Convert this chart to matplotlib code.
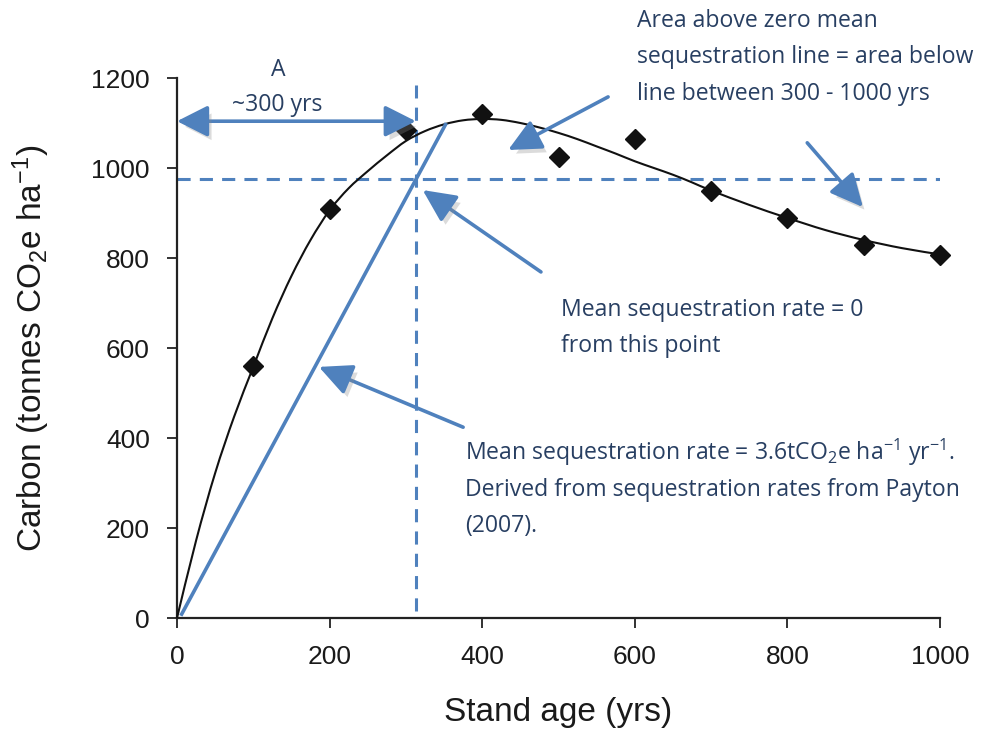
import matplotlib
matplotlib.use("Agg")
import matplotlib.pyplot as plt
import matplotlib.patheffects as pe
from matplotlib.path import Path
from matplotlib.patches import PathPatch

# ---- data ----
stand_age = [100, 200, 300, 400, 500, 600, 700, 800, 900, 1000]
carbon = [560, 909, 1084, 1119, 1024, 1064, 948, 889, 829, 807]

# fitted (trend) curve
curve_age = [0, 25, 50, 75, 100, 125, 150, 175, 200, 225, 250, 275, 300, 325, 350, 375, 400,
             425, 450, 475, 500, 525, 550, 575, 600, 625, 650, 675, 700, 750, 800, 850, 900,
             950, 1000]
curve_c = [0, 172, 322, 448, 558, 666, 760, 840, 906, 955, 993, 1028, 1060, 1082, 1097, 1106,
           1109, 1107, 1100, 1090, 1078, 1064, 1048, 1032, 1015, 1000, 985, 968, 950, 918, 889,
           862, 840, 822, 808]

mean_rate_x = [5, 353]
mean_rate_y = [5, 1100]
zero_line_age = 313
zero_line_carbon = 976
span_y = 1104

xticks = [0, 200, 400, 600, 800, 1000]
yticks = [0, 200, 400, 600, 800, 1000, 1200]

BLUE = "#4f81bd"
NAVY = "#283f62"
AX = "#222222"

plt.rcParams["mathtext.default"] = "regular"

W, H = 981, 729
fig = plt.figure(figsize=(W / 100, H / 100), dpi=100)
ax = fig.add_axes([177 / W, 1 - 618 / H, (940 - 177) / W, (618 - 78) / H])

ax.set_xlim(0, 1000)
ax.set_ylim(0, 1200)
for s in ["top", "right"]:
    ax.spines[s].set_visible(False)
for s in ["left", "bottom"]:
    ax.spines[s].set_linewidth(1.6)
    ax.spines[s].set_color(AX)
ax.set_xticks(xticks)
ax.set_yticks(yticks)
ax.tick_params(direction="out", length=7.5, width=1.3, color=AX,
               labelsize=19, labelcolor="#1a1a1a", pad=12)
for lab in ax.get_xticklabels() + ax.get_yticklabels():
    lab.set_fontfamily("Liberation Sans")

ax.set_xlabel("Stand age (yrs)", fontsize=24, family="Liberation Sans", color="#1a1a1a", labelpad=20)
ax.set_ylabel("Carbon (tonnes CO$_2$e ha$^{-1}$)", fontsize=24, family="Liberation Sans",
              color="#1a1a1a", labelpad=28)


def smooth_path(xs, ys):
    """Catmull-Rom through the read points, drawn as cubic Bezier segments."""
    pts = list(zip(xs, ys))
    verts = [pts[0]]
    codes = [Path.MOVETO]
    n = len(pts)
    for i in range(n - 1):
        p0 = pts[i - 1] if i > 0 else pts[i]
        p1 = pts[i]
        p2 = pts[i + 1]
        p3 = pts[i + 2] if i + 2 < n else pts[i + 1]
        c1 = (p1[0] + (p2[0] - p0[0]) / 6, p1[1] + (p2[1] - p0[1]) / 6)
        c2 = (p2[0] - (p3[0] - p1[0]) / 6, p2[1] - (p3[1] - p1[1]) / 6)
        verts += [c1, c2, p2]
        codes += [Path.CURVE4] * 3
    return Path(verts, codes)


ax.add_patch(PathPatch(smooth_path(curve_age, curve_c), fill=False, edgecolor="#111111",
                       lw=1.5, zorder=3, clip_on=False))
ax.plot(stand_age, carbon, ls="none", marker="D", ms=10.5, color="#111111", zorder=4, clip_on=False)

# mean sequestration line
ax.plot(mean_rate_x, mean_rate_y, color=BLUE, lw=2.6, solid_capstyle="butt", zorder=5)

# dashed guides
dash = (0, (4.3, 3.0))
ax.plot([zero_line_age, zero_line_age], [15, 1184], color=BLUE, lw=2.2, ls=dash, zorder=2, clip_on=False)
ax.plot([0, 1000], [zero_line_carbon, zero_line_carbon], color=BLUE, lw=2.2, ls=dash, zorder=2)

shadow = [pe.SimplePatchShadow(offset=(3, -4), shadow_rgbFace="#8a8a8a", alpha=0.3), pe.Normal()]

# double arrow "~300 yrs"
ax.annotate("", xy=(0, span_y), xytext=(zero_line_age, span_y),
            arrowprops=dict(arrowstyle="<|-|>,head_length=0.95,head_width=0.48", mutation_scale=20,
                            lw=2.6, color=BLUE, shrinkA=0, shrinkB=0, path_effects=shadow),
            annotation_clip=False, zorder=6)

arrows = [((565, 1158), (434, 1040)),
          ((826, 1056), (899, 913)),
          ((477, 769), (322, 951)),
          ((375, 424), (186, 558))]
for tail, head in arrows:
    ax.annotate("", xy=head, xytext=tail,
                arrowprops=dict(arrowstyle="-|>,head_length=1.0,head_width=0.48", mutation_scale=20,
                                lw=2.6, color=BLUE, shrinkA=0, shrinkB=0, path_effects=shadow),
                annotation_clip=False, zorder=6)


def ftext(x, y, s, **kw):
    fig.text(x / W, 1 - y / H, s, va="baseline", ha="left", color=NAVY,
             family="Open Sans", fontsize=16.6, **kw)


ftext(271, 76, "A")
ftext(232, 111, "~300 yrs")

ftext(637, 27, "Area above zero mean")
ftext(637, 63, "sequestration line = area below")
ftext(637, 100, "line between 300 - 1000 yrs")

ftext(561, 316, "Mean sequestration rate = 0")
ftext(561, 352, "from this point")

ftext(465, 460, "Mean sequestration rate = 3.6tCO$_2$e ha$^{-1}$ yr$^{-1}$.")
ftext(465, 496, "Derived from sequestration rates from Payton")
ftext(465, 532, "(2007).")

fig.savefig("out.png", dpi=100)
